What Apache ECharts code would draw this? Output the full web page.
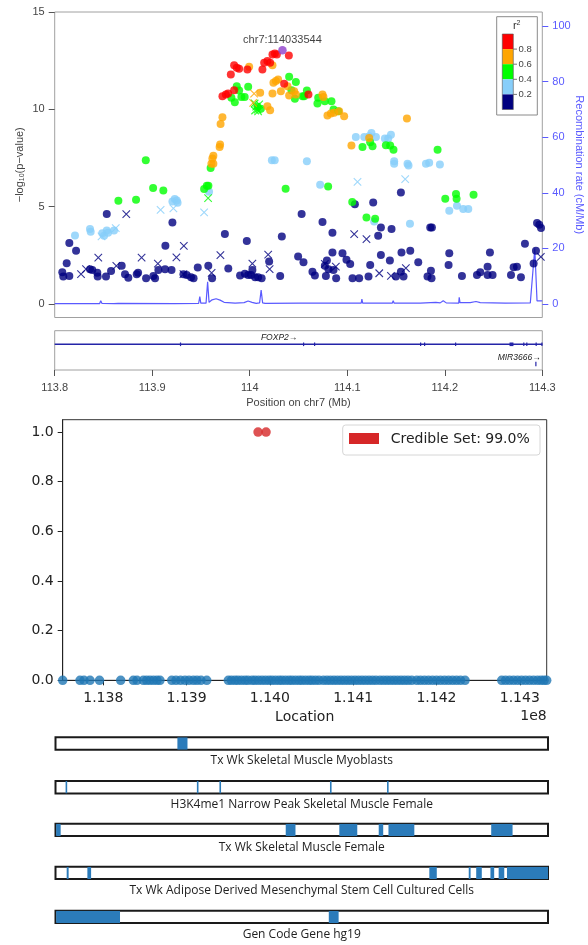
<!DOCTYPE html>
<html><head><meta charset="utf-8">
<script src="https://cdn.jsdelivr.net/npm/echarts@6/dist/echarts.min.js"></script>
<style>html,body{margin:0;padding:0;background:#fff}#c{width:588px;height:945px}</style>
</head><body><div id="c"></div>
<script>
// ---------- Top panel: LocusZoom style association plot ----------
const topXTicks = [113.8, 113.9, 114.0, 114.1, 114.2, 114.3];
const logpTicks = [0, 5, 10, 15];
const recombTicks = [0, 20, 40, 60, 80, 100];
const r2Labels = ['0.8', '0.6', '0.4', '0.2'];

const navyDots = [[113.8078,1.63],[113.8088,1.41],[113.8150,1.44],[113.8123,2.10],[113.8150,3.13],[113.8219,2.73],[113.8362,1.79],[113.8386,1.75],[113.8437,1.61],[113.8441,1.41],[113.8526,1.41],[113.8534,4.63],[113.8578,1.70],[113.8687,1.96],[113.8721,1.53],[113.8755,1.35],[113.8841,1.53],[113.8855,1.61],[113.8937,1.32],[113.9012,1.44],[113.9029,1.32],[113.9063,1.75],[113.9132,1.79],[113.9135,2.99],[113.9198,1.75],[113.9207,4.19],[113.9320,1.53],[113.9354,1.49],[113.9398,1.37],[113.9424,1.32],[113.9467,1.87],[113.9575,1.96],[113.9614,1.32],[113.9745,3.60],[113.9780,1.82],[113.9901,1.47],[113.9970,3.24],[113.9950,1.55],[113.9983,1.49],[114.0014,1.49],[114.0027,1.75],[114.0055,1.37],[114.0086,1.37],[114.0122,1.32],[114.0199,2.18],[114.0312,1.44],[114.0329,3.47],[114.0496,2.44],[114.0532,4.62],[114.0551,2.15],[114.0643,1.66],[114.0668,1.46],[114.0746,4.21],[114.0770,1.96],[114.0791,2.23],[114.0807,1.79],[114.0859,1.75],[114.0781,1.44],[114.0886,1.32],[114.0848,2.64],[114.0848,3.66],[114.0951,2.61],[114.0992,2.27],[114.1030,2.06],[114.1054,1.32],[114.1122,1.32],[114.1078,5.13],[114.1266,5.22],[114.1235,2.01],[114.1218,1.41],[114.1317,3.50],[114.1345,3.93],[114.1345,2.52],[114.1437,2.23],[114.1454,3.85],[114.1499,1.41],[114.1550,5.73],[114.1556,2.64],[114.1646,2.74],[114.1550,1.66],[114.1577,1.41],[114.1728,2.15],[114.1851,3.93],[114.1868,3.93],[114.1858,1.71],[114.1823,1.41],[114.1864,1.32],[114.2046,2.61],[114.2039,2.01],[114.2176,1.44],[114.2330,1.49],[114.2364,1.63],[114.2439,1.92],[114.2439,1.49],[114.2490,1.49],[114.2463,2.64],[114.2679,1.49],[114.2706,1.89],[114.2740,1.92],[114.2781,1.37],[114.2822,3.09],[114.2911,2.08],[114.2935,2.74],[114.2946,4.16],[114.2969,4.07],[114.2987,3.90]];
const navyCross = [[113.8270,1.54],[113.8321,1.79],[113.8447,2.38],[113.8632,1.96],[113.8734,4.62],[113.8891,2.38],[113.9058,2.07],[113.9248,2.39],[113.9324,2.99],[113.9320,1.54],[113.9609,1.60],[113.9699,2.51],[114.0027,2.08],[114.0189,2.54],[114.0204,1.79],[114.0770,2.06],[114.0883,1.92],[114.1071,3.59],[114.1197,3.33],[114.1328,1.58],[114.1448,1.44],[114.1601,1.84],[114.2985,2.42]];
const lightDots = [[113.8208,3.52],[113.8362,3.85],[113.8369,3.71],[113.8488,3.63],[113.8506,3.50],[113.8534,3.77],[113.8547,3.66],[113.8608,3.78],[113.9207,5.27],[113.9231,5.39],[113.9252,5.32],[113.9260,5.20],[113.9583,5.77],[114.0227,7.38],[114.0256,7.39],[114.0586,7.33],[114.0722,6.13],[114.1088,8.58],[114.1174,8.58],[114.1225,8.62],[114.1248,8.79],[114.1294,8.58],[114.1386,8.50],[114.1420,8.50],[114.1448,8.70],[114.1481,7.33],[114.1481,7.21],[114.1618,7.21],[114.1628,7.11],[114.1807,7.21],[114.1840,7.25],[114.1950,7.16],[114.1276,4.24],[114.1643,4.12],[114.2046,4.79],[114.2125,5.05],[114.2189,4.88],[114.2241,4.88]];
const lightCross = [[113.8480,3.47],[113.8626,3.90],[113.9086,4.84],[113.9217,4.91],[113.9532,4.71],[114.1105,6.27],[114.1594,6.42]];
const greenDots = [[113.8653,5.30],[113.8834,5.36],[113.8934,7.38],[113.9009,5.96],[113.9114,5.83],[113.9532,5.91],[113.9560,6.08],[113.9576,6.08],[113.9599,6.99],[114.0368,5.92],[113.9812,10.59],[113.9847,10.37],[113.9867,11.19],[113.9891,10.97],[113.9914,10.64],[113.9948,10.64],[113.9984,11.16],[114.0079,10.13],[114.0114,10.03],[114.0404,11.67],[114.0428,10.98],[114.0463,10.54],[114.0473,11.40],[114.0541,10.67],[114.0558,10.67],[114.0586,10.97],[114.0702,10.59],[114.0694,10.30],[114.0770,10.42],[114.0838,10.42],[114.0859,9.99],[114.0907,9.90],[114.1156,8.07],[114.1235,8.31],[114.1259,8.10],[114.1396,8.15],[114.1440,8.14],[114.1474,7.93],[114.1926,7.93],[114.0804,6.04],[114.1051,5.24],[114.2005,5.41],[114.2115,5.65],[114.2121,5.41],[114.2295,5.61],[114.1197,4.44],[114.1286,4.38]];
const greenCross = [[113.9573,5.44],[114.0050,10.30],[114.0066,10.14],[114.0081,9.99],[114.0055,9.94],[114.0097,10.25],[114.0086,9.89]];
const orangeDots = [[113.9607,7.21],[113.9627,7.21],[113.9617,7.47],[113.9627,7.62],[113.9691,8.07],[113.9696,8.19],[113.9701,9.25],[113.9720,9.59],[113.9994,12.19],[114.0233,12.26],[114.0107,10.85],[114.0233,10.81],[114.0181,10.16],[114.0209,9.95],[114.0243,11.36],[114.0268,11.45],[114.0291,11.53],[114.0319,10.93],[114.0387,11.19],[114.0404,10.71],[114.0456,10.93],[114.0473,10.76],[114.0746,10.76],[114.0756,10.64],[114.0797,9.68],[114.0832,9.78],[114.0866,9.82],[114.0917,9.90],[114.0968,9.65],[114.1043,8.14],[114.1225,8.53],[114.1612,9.53]];
const orangeCross = [[114.0045,10.81],[114.0035,10.33]];
const redDots = [[113.9720,10.67],[113.9755,10.76],[113.9778,10.81],[113.9840,10.98],[113.9806,11.79],[113.9840,12.26],[113.9867,12.14],[113.9891,12.09],[113.9976,12.05],[114.0130,12.05],[114.0148,12.39],[114.0181,12.48],[114.0209,12.39],[114.0233,12.82],[114.0257,12.87],[114.0278,12.82],[114.0401,12.77],[114.0353,11.31],[114.0602,10.76]];
const leadSnp = [114.033544, 13.03];

const recomb = [[113.8,0.1],[113.8239,0.1],[113.8249,0.35],[113.826,0.1],[113.846,0.1],[113.8472,1.2],[113.8485,0.2],[113.8608,0.1],[113.8626,0.6],[113.865,0.2],[113.9232,0.1],[113.9242,0.4],[113.9252,0.1],[113.9476,0.2],[113.9488,2.7],[113.9498,0.3],[113.9552,0.3],[113.9568,8.0],[113.9583,0.6],[113.9614,1.5],[113.9655,1.9],[113.9696,1.4],[113.9737,0.6],[113.985,0.3],[113.9942,0.5],[113.9983,1.1],[114.0024,0.6],[114.0066,0.2],[114.0101,0.4],[114.0117,5.0],[114.0132,0.4],[114.0158,0.2],[114.0517,0.3],[114.1143,0.3],[114.115,1.8],[114.1158,0.3],[114.1461,0.3],[114.1471,1.2],[114.1481,0.3],[114.1748,0.3],[114.1909,0.6],[114.1953,0.4],[114.1984,1.2],[114.2015,0.4],[114.2143,0.3],[114.2148,2.4],[114.2156,0.5],[114.2261,0.5],[114.232,0.9],[114.2364,0.5],[114.262,0.3],[114.2877,0.4],[114.2923,20.0],[114.2946,1.1],[114.3,1.1]];

// genes (Mb)
const geneNames = ['FOXP2', 'MIR3666'];
const geneStart = [113.7264, 114.2928];
const geneEnd = [114.3338, 114.2930];
const geneExons = [
  [[113.9284,113.9288],[114.0546,114.0550],[114.0659,114.0663],[114.1746,114.1750],[114.1787,114.1791],[114.2105,114.2109],[114.2664,114.2704],[114.2804,114.2808],[114.2835,114.2839],[114.2931,114.2935],[114.2990,114.3000]],
  [[114.2928,114.2930]]
];

// ---------- Middle panel: credible set ----------
const snpPos = [113751300,113772100,113776900,113784100,113795500,113820900,113836100,113840500,113848100,113852100,113856100,113860300,113864500,113868100,113882200,113887300,113892700,113898100,113902900,113908100,113912500,113917300,113924200,113950100,113953900,113958100,113961700,113965900,113970200,113973800,113978600,113982200,113986400,113990600,113994800,113999000,114002600,114006800,114011000,114014600,114018800,114023000,114026600,114030800,114035000,114038600,114042800,114047000,114050600,114054800,114059000,114064200,114068600,114072800,114077000,114081200,114085400,114089600,114093800,114098000,114102200,114106400,114110600,114114800,114119000,114123200,114127400,114132200,114136400,114140600,114144800,114149000,114153200,114157400,114161600,114165800,114170300,114176300,114180800,114185600,114190400,114195200,114200000,114204800,114209700,114214500,114219300,114224100,114228900,114234300,114278300,114282900,114287700,114292500,114297300,114302100,114306900,114311700,114316500,114321300,114325500,114329100,114332300];
const credibleSet = [113985800, 113995400];
const credLabel = 'Credible Set: 99.0%';
const locMin = 113751300, locMax = 114332300;
const locTicks = [113800000, 113900000, 114000000, 114100000, 114200000, 114300000];
const probTicks = [0, 0.2, 0.4, 0.6, 0.8, 1.0];

// ---------- Bottom: annotation tracks ----------
const trackNames = ['Tx Wk Skeletal Muscle Myoblasts', 'H3K4me1 Narrow Peak Skeletal Muscle Female', 'Tx Wk Skeletal Muscle Female', 'Tx Wk Adipose Derived Mesenchymal Stem Cell Cultured Cells', 'Gen Code Gene hg19'];
const track1 = [[113895100,113907000]];
const track2 = [[113763200,113765000],[113918100,113919900],[113944700,113946500],[114075100,114076900],[114142400,114144200]];
const track3 = [[113752100,113757400],[114022900,114034400],[114086100,114107300],[114132600,114137900],[114144100,114174600],[114265300,114290500]];
const track4 = [[113764500,113766800],[113788900,113793300],[114192300,114201100],[114238800,114241000],[114247600,114254200],[114264400,114268800],[114274100,114280700],[114283900,114332300]];
const track5 = [[113752100,113827400],[114073700,114085300]];
const tracks = [track1, track2, track3, track4, track5];

// ---------- styling ----------
const FR = 'Liberation Sans, Arial, sans-serif';
const FM = 'DejaVu Sans, sans-serif';
const FT = 'Open Sans, sans-serif';
const C = {navy:'#000080', light:'#87CEFA', green:'#00FF00', orange:'#FFA500', red:'#FF0000', purple:'#8E3FCB'};
const CROSS = 'path://M0 0L10 10M10 0L0 10';
const RECOMB = '#5a5aff';

function sc(data, color, cross) {
  return {
    type:'scatter', xAxisIndex:0, yAxisIndex:0, data, symbol: cross ? CROSS : 'circle',
    symbolSize: cross ? 7.5 : 8,
    itemStyle: cross ? {color:'rgba(0,0,0,0)', borderColor: color, borderWidth: 1.1} : {color: color},
    silent:true, z:3
  };
}

const grids = [
  {left:54.7, top:12, width:487.6, height:305.5, show:true, borderColor:'#a0a0a0', borderWidth:1},
  {left:54.7, top:330.7, width:487.6, height:39.3, show:true, borderColor:'#a0a0a0', borderWidth:1},
  {left:62.7, top:419.7, width:484, height:260.6, show:true, borderColor:'#333', borderWidth:1}
];
const trackTops = [737.3, 781, 823.7, 866.7, 910.7];
trackTops.forEach(t => grids.push({left:55.5, top:t, width:492.5, height:12.4, show:true, borderColor:'#1a1a1a', borderWidth:2, backgroundColor:'#fff'}));
grids.forEach(g => { g.outerBoundsMode = 'none'; g.containLabel = false; });

const xAxes = [
  {type:'value', gridIndex:0, min:113.8, max:114.3, show:false},
  {type:'value', gridIndex:1, min:113.8, max:114.3, position:'bottom',
   axisLine:{show:false}, splitLine:{show:false},
   axisTick:{show:true, length:6, customValues: topXTicks, lineStyle:{color:'#555'}},
   axisLabel:{show:true, customValues: topXTicks, color:'#444', fontSize:11, fontFamily:FR, margin:12,
     formatter: v => String(parseFloat(v.toFixed(1)))},
   name:'Position on chr7 (Mb)', nameLocation:'middle', nameGap:27, nameMoveOverlap:false,
   nameTextStyle:{color:'#444', fontSize:11, fontFamily:FR}},
  {type:'value', gridIndex:2, min:locMin, max:locMax, position:'bottom',
   axisLine:{show:true, onZero:false, lineStyle:{color:'#222', width:1}}, splitLine:{show:false},
   axisTick:{show:true, length:5, customValues: locTicks, lineStyle:{color:'#222'}},
   axisLabel:{show:true, customValues: locTicks, color:'#222', fontSize:14, fontFamily:FM, margin:11,
     formatter: v => (v/1e8).toFixed(3)},
   name:'Location', nameLocation:'middle', nameGap:30, nameMoveOverlap:false,
   nameTextStyle:{color:'#222', fontSize:14, fontFamily:FM}}
];
trackNames.forEach((n, i) => xAxes.push({type:'value', gridIndex:3+i, min:locMin, max:locMax,
  axisLine:{show:false}, axisTick:{show:false}, axisLabel:{show:false}, splitLine:{show:false},
  name:n, nameLocation:'middle', nameGap:5, nameMoveOverlap:false, nameTextStyle:{color:'#222', fontSize:12, fontFamily:FT}}));

const yAxes = [
  {type:'value', gridIndex:0, min:-0.693, max:15, position:'left',
   axisLine:{show:false}, splitLine:{show:false},
   axisTick:{show:true, length:6, customValues: logpTicks, lineStyle:{color:'#555'}},
   axisLabel:{show:true, customValues: logpTicks, color:'#444', fontSize:11, fontFamily:FR, margin:10},
   name:'\u2212log{s|10}(p\u2212value)', nameLocation:'middle', nameGap:29, nameRotate:90, nameMoveOverlap:false,
   nameTextStyle:{color:'#444', fontSize:11, fontFamily:FR, rich:{s:{fontSize:7, fontFamily:FR, color:'#444', verticalAlign:'bottom', lineHeight:10, padding:[4,0,0,0]}}}},
  {type:'value', gridIndex:0, min:-4.856, max:105.04, position:'right',
   axisLine:{show:false}, splitLine:{show:false},
   axisTick:{show:true, length:6, customValues: recombTicks, lineStyle:{color:RECOMB}},
   axisLabel:{show:true, customValues: recombTicks, color:RECOMB, fontSize:11, fontFamily:FR, margin:10},
   name:'Recombination rate (cM/Mb)', nameLocation:'middle', nameGap:31, nameRotate:-90, nameMoveOverlap:false,
   nameTextStyle:{color:RECOMB, fontSize:11, fontFamily:FR}},
  {type:'value', gridIndex:1, min:0, max:1, show:false},
  {type:'value', gridIndex:2, min:0, max:1.05, position:'left',
   axisLine:{show:true, lineStyle:{color:'#222'}}, splitLine:{show:false},
   axisTick:{show:true, length:5, customValues: probTicks, lineStyle:{color:'#222'}},
   axisLabel:{show:true, customValues: probTicks, color:'#222', fontSize:14, fontFamily:FM, margin:9,
     formatter: v => v.toFixed(1)}}
];
trackNames.forEach((n, i) => yAxes.push({type:'value', gridIndex:3+i, min:0, max:1, show:false}));

const geneRowY = [0.654, 0.153];
const series = [
  {type:'line', xAxisIndex:0, yAxisIndex:1, data: recomb, symbol:'none', silent:true, z:1,
   lineStyle:{color:RECOMB, width:1.2}},
  sc(navyDots, C.navy, false), sc(navyCross, C.navy, true),
  sc(lightDots, C.light, false), sc(lightCross, C.light, true),
  sc(greenDots, C.green, false), sc(greenCross, C.green, true),
  sc(orangeDots, C.orange, false), sc(orangeCross, C.orange, true),
  sc(redDots, C.red, false),
  {type:'scatter', xAxisIndex:0, yAxisIndex:0, data:[leadSnp], symbolSize:8.5, itemStyle:{color:C.purple}, z:4, silent:true,
   label:{show:true, position:'top', distance:1, formatter: p => 'chr7:' + Math.round(p.value[0]*1e6),
     color:'#111', fontSize:11, fontFamily:FR}},
  // gene track
  {type:'custom', xAxisIndex:1, yAxisIndex:2, silent:true, clip:false,
   data: geneNames.map((n, i) => [geneStart[i], geneEnd[i], i]),
   renderItem: (params, api) => {
     const i = params.dataIndex, cs = params.coordSys, y = geneRowY[i];
     const children = [];
     const a = api.coord([geneStart[i], y]), b = api.coord([geneEnd[i], y]);
     const x0 = Math.max(a[0], cs.x), x1 = Math.min(b[0], cs.x + cs.width);
     if (x1 - x0 > 2) children.push({type:'line', shape:{x1:x0, y1:a[1], x2:x1, y2:a[1]}, style:{stroke:'#2424a8', lineWidth:1.5}});
     geneExons[i].forEach(e => {
       const p = api.coord([e[0], y]), q = api.coord([e[1], y]);
       const h = i === 0 ? 3.6 : 4.4;
       const xs = Math.max(p[0], cs.x), xe = Math.min(q[0], cs.x + cs.width);
       children.push({type:'rect', shape:{x:xs, y:p[1]-h/2, width:Math.max(xe-xs, 1.2), height:h}, style:{fill:'#2424a8'}});
     });
     const mid = (geneStart[i] + geneEnd[i]) / 2;
     const nearRight = mid > 114.28;
     const lp = api.coord([nearRight ? 114.2983 : mid, y]);
     children.push({type:'text', x: lp[0], y: lp[1] - 6.5,
       style:{text: geneNames[i] + '\u2192', fill:'#222', fontSize:8.5, fontStyle:'italic', fontFamily:FR,
         align: nearRight ? 'right' : 'center', verticalAlign:'middle'}});
     return {type:'group', children};
   }},
  // credible set panel
  {type:'scatter', xAxisIndex:2, yAxisIndex:3, data: snpPos.map(p => [p, 0]), symbolSize:9.5, clip:false,
   itemStyle:{color:'#1f77b4'}, silent:true, z:3},
  {type:'scatter', xAxisIndex:2, yAxisIndex:3, data: credibleSet.map(p => [p, 1]), symbolSize:9.5, clip:false,
   itemStyle:{color:'#d62728'}, silent:true, z:4}
];
tracks.forEach((t, k) => series.push({type:'custom', xAxisIndex:3+k, yAxisIndex:4+k, data:t, silent:true, clip:true,
  encode:{x:[0,1]},
  renderItem: (params, api) => {
    const s = api.coord([api.value(0), 1]), e = api.coord([api.value(1), 0]);
    return {type:'rect', shape:{x:s[0], y:s[1], width:Math.max(e[0]-s[0], 1.6), height:e[1]-s[1]}, style:{fill:'#2b7bba'}};
  }}));

// r^2 key + credible-set key (drawn as graphics)
const keyColors = [C.red, C.orange, C.green, C.light, C.navy];
const graphic = [
  {type:'rect', shape:{x:496.7, y:16.7, width:40.6, height:98.3}, style:{fill:'#fff', stroke:'#8a8a8a', lineWidth:1}, z:10},
  {type:'text', x:516.7, y:26, style:{text:'r{s|2}', fontSize:11, fontFamily:FR, fill:'#333', align:'center', verticalAlign:'middle',
    rich:{s:{fontSize:7, fontFamily:FR, fill:'#333', verticalAlign:'top', padding:[0,0,6,0]}}}, z:11}
];
keyColors.forEach((c, i) => graphic.push({type:'rect', shape:{x:502.3, y:34 + i*15.1, width:11, height:15.1}, style:{fill:c}, z:11}));
graphic.push({type:'rect', shape:{x:502.3, y:34, width:11, height:75.5}, style:{fill:'none', stroke:'#555', lineWidth:0.6}, z:12});
r2Labels.forEach((l, i) => {
  const yy = 34 + (i+1)*15.1;
  graphic.push({type:'line', shape:{x1:513.3, y1:yy, x2:517, y2:yy}, style:{stroke:'#555', lineWidth:0.8}, z:12});
  graphic.push({type:'text', x:518.5, y:yy, style:{text:l, fontSize:9.5, fontFamily:FR, fill:'#444', align:'left', verticalAlign:'middle'}, z:12});
});
graphic.push(
  {type:'rect', shape:{x:342.7, y:425, width:197.3, height:30, r:3}, style:{fill:'rgba(255,255,255,0.8)', stroke:'#d6d6d6', lineWidth:1}, z:10},
  {type:'rect', shape:{x:349, y:433, width:30, height:11}, style:{fill:'#d62728'}, z:11},
  {type:'text', x:390.7, y:439, style:{text:credLabel, fontSize:14, fontFamily:FM, fill:'#222', align:'left', verticalAlign:'middle'}, z:11},
  {type:'text', x:546.7, y:716, style:{text:'1e8', fontSize:14, fontFamily:FM, fill:'#222', align:'right', verticalAlign:'middle'}, z:11}
);

const chart = echarts.init(document.getElementById('c'), null, {renderer:'canvas'});
chart.setOption({animation:false, backgroundColor:'#fff', grid:grids, xAxis:xAxes, yAxis:yAxes, series, graphic});
</script></body></html>
